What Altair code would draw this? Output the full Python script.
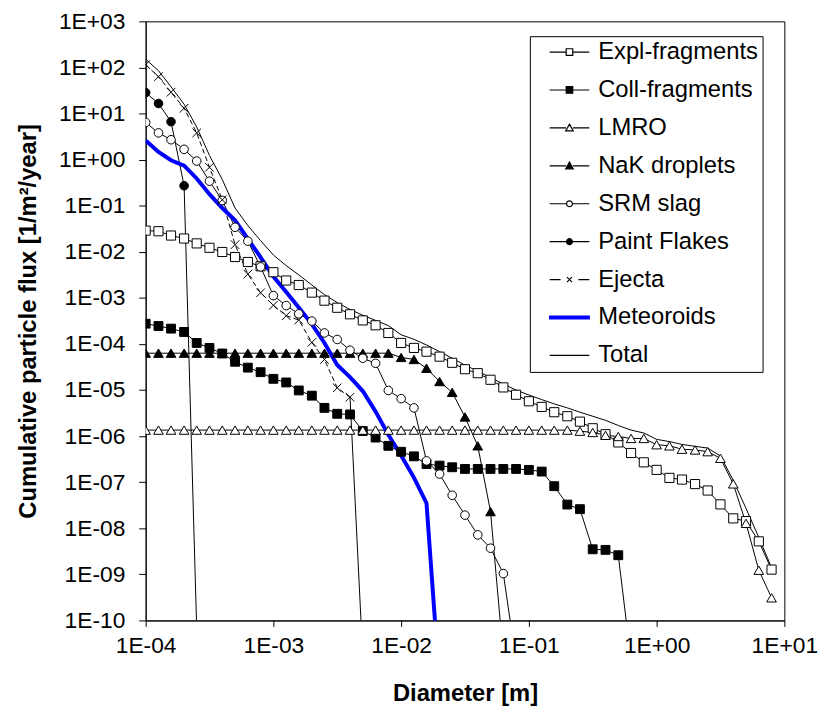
import altair as alt
import pandas as pd

# ---------------- data ----------------
DIAMETER = [
    1.00e-4, 1.26e-4, 1.58e-4, 2.00e-4, 2.51e-4, 3.16e-4, 3.98e-4, 5.01e-4, 6.31e-4, 7.94e-4,
    1.00e-3, 1.26e-3, 1.58e-3, 2.00e-3, 2.51e-3, 3.16e-3, 3.98e-3, 5.01e-3, 6.31e-3, 7.94e-3,
    1.00e-2, 1.26e-2, 1.58e-2, 2.00e-2, 2.51e-2, 3.16e-2, 3.98e-2, 5.01e-2, 6.31e-2, 7.94e-2,
    1.00e-1, 1.26e-1, 1.58e-1, 2.00e-1, 2.51e-1, 3.16e-1, 3.98e-1, 5.01e-1, 6.31e-1, 7.94e-1,
    1.00e+0, 1.26e+0, 1.58e+0, 2.00e+0, 2.51e+0, 3.16e+0, 3.98e+0, 5.01e+0, 6.31e+0, 7.94e+0,
]

SERIES = ["Expl-fragments", "Coll-fragments", "LMRO", "NaK droplets", "SRM slag",
          "Paint Flakes", "Ejecta", "Meteoroids", "Total"]

EXPL = [
    2.88e-2, 2.79e-2, 2.25e-2, 1.94e-2, 1.52e-2, 1.22e-2, 9.9e-3, 7.7e-3, 6.0e-3, 4.85e-3,
    3.6e-3, 2.38e-3, 1.9e-3, 1.3e-3, 8.7e-4, 6.1e-4, 4.4e-4, 3.24e-4, 2.54e-4, 1.73e-4,
    1.05e-4, 8.2e-5, 6.8e-5, 5.3e-5, 3.9e-5, 2.83e-5, 2.32e-5, 1.67e-5, 1.14e-5, 7.9e-6,
    5.7e-6, 4.3e-6, 3.3e-6, 2.7e-6, 2.06e-6, 1.48e-6, 1.1e-6, 7.3e-7, 4.3e-7, 2.7e-7,
    1.85e-7, 1.24e-7, 1.14e-7, 9.1e-8, 6.6e-8, 3.3e-8, 1.64e-8, 1.43e-8, 5.2e-9, 1.27e-9,
]
COLL = [
    2.75e-4, 2.45e-4, 2.15e-4, 1.82e-4, 1.05e-4, 8.2e-5, 6.2e-5, 4.1e-5, 3.06e-5, 2.44e-5,
    1.75e-5, 1.46e-5, 9.8e-6, 7.55e-6, 4.1e-6, 3.05e-6, 2.95e-6, 1.29e-6, 9.3e-7, 6.15e-7,
    4.57e-7, 3.64e-7, 2.48e-7, 2.29e-7, 2.11e-7, 1.94e-7, 1.94e-7, 1.94e-7, 1.94e-7, 1.94e-7,
    1.85e-7, 1.70e-7, 8.2e-8, 3.27e-8, 2.6e-8, 3.5e-9, 3.4e-9, 2.6e-9, 1.35e-11,
]
LMRO = [
    1.35e-6, 1.35e-6, 1.35e-6, 1.35e-6, 1.35e-6, 1.35e-6, 1.35e-6, 1.35e-6, 1.35e-6, 1.35e-6,
    1.35e-6, 1.35e-6, 1.35e-6, 1.35e-6, 1.35e-6, 1.35e-6, 1.35e-6, 1.35e-6, 1.35e-6, 1.35e-6,
    1.35e-6, 1.35e-6, 1.35e-6, 1.35e-6, 1.35e-6, 1.35e-6, 1.35e-6, 1.35e-6, 1.35e-6, 1.35e-6,
    1.35e-6, 1.35e-6, 1.35e-6, 1.35e-6, 1.28e-6, 1.2e-6, 1.04e-6, 9.8e-7, 8.9e-7, 8.9e-7,
    6.5e-7, 6.15e-7, 5.2e-7, 5.0e-7, 4.6e-7, 3.3e-7, 9.2e-8, 1.28e-8, 1.23e-9, 3.1e-10,
]
NAK = [
    6.3e-5, 6.3e-5, 6.3e-5, 6.3e-5, 6.3e-5, 6.3e-5, 6.3e-5, 6.3e-5, 6.3e-5, 6.3e-5,
    6.3e-5, 6.3e-5, 6.3e-5, 6.3e-5, 6.3e-5, 6.3e-5, 6.3e-5, 6.3e-5, 6.3e-5, 6.3e-5,
    5.1e-5, 4.6e-5, 2.97e-5, 1.53e-5, 8.9e-6, 2.6e-6, 6.15e-7, 2.3e-8, 1.66e-11,
]
SRM = [
    6.4e+0, 3.8e+0, 2.7e+0, 1.67e+0, 9.3e-1, 3.4e-1, 1.3e-1, 3.4e-2, 1.7e-2, 4.7e-3,
    1.12e-3, 6.8e-4, 4.5e-4, 3.13e-4, 1.73e-4, 1.25e-4, 7.3e-5, 4.9e-5, 3.8e-5, 9.8e-6,
    6.5e-6, 4.1e-6, 2.9e-7, 1.5e-7, 5.2e-8, 1.93e-8, 7.2e-9, 3.7e-9, 1.04e-9, 1.3e-11,
]
PAINT = [2.84e+1, 1.65e+1, 6.65e+0, 2.71e-1, 6.5e-11]
EJECTA = [
    1.15e+2, 6.3e+1, 2.9e+1, 1.3e+1, 3.8e+0, 6.8e-1, 1.34e-1, 1.43e-2, 3.27e-3, 1.29e-3,
    6.9e-4, 4.1e-4, 3.3e-4, 1.08e-4, 4.6e-5, 1.12e-5, 7.0e-6, 1.6e-11,
]
METEOROIDS = [
    2.6e+0, 1.46e+0, 9.7e-1, 7.4e-1, 3.9e-1, 1.78e-1, 8.9e-2, 4.8e-2, 1.9e-2, 7.6e-3,
    2.9e-3, 1.34e-3, 6.2e-4, 2.7e-4, 1.05e-4, 3.5e-5, 1.9e-5, 9.5e-6, 3.4e-6, 1.07e-6,
    3.8e-7, 1.26e-7, 3.5e-8, 4.0e-12,
]
TOTAL = [
    1.51e+2, 8.5e+1, 3.8e+1, 1.59e+1, 5.1e+0, 1.23e+0, 3.7e-1, 8.9e-2, 3.7e-2, 1.74e-2,
    8.5e-3, 5.0e-3, 3.16e-3, 1.9e-3, 1.17e-3, 7.9e-4, 5.6e-4, 4.2e-4, 3.24e-4, 2.5e-4,
    1.58e-4, 1.26e-4, 9.5e-5, 6.8e-5, 4.9e-5, 3.47e-5, 2.57e-5, 1.86e-5, 1.35e-5, 1.0e-5,
    7.8e-6, 6.2e-6, 5.0e-6, 4.1e-6, 3.3e-6, 2.7e-6, 2.2e-6, 1.7e-6, 1.35e-6, 1.17e-6,
    8.5e-7, 7.6e-7, 6.6e-7, 6.0e-7, 5.5e-7, 3.7e-7, 1.1e-7, 2.7e-8, 6.3e-9, 1.4e-9,
]

FLUX = {
    "Expl-fragments": EXPL, "Coll-fragments": COLL, "LMRO": LMRO, "NaK droplets": NAK,
    "SRM slag": SRM, "Paint Flakes": PAINT, "Ejecta": EJECTA, "Meteoroids": METEOROIDS,
    "Total": TOTAL,
}

rows = []
for name in SERIES:
    for i, (d, v) in enumerate(zip(DIAMETER, FLUX[name])):
        rows.append({"series": name, "d": d, "flux": v, "idx": i})
df = pd.DataFrame(rows)

# ---------------- styles ----------------
FONT = "Liberation Sans"
XPATH = "M-1,-1L1,1M-1,1L1,-1"

MARKER_STYLE = {
    "Expl-fragments": dict(shape="square", size=85, fill="white", filled=True),
    "Coll-fragments": dict(shape="square", size=80, fill="black", filled=True),
    "LMRO": dict(shape="triangle-up", size=95, fill="white", filled=True),
    "NaK droplets": dict(shape="triangle-up", size=95, fill="black", filled=True),
    "SRM slag": dict(shape="circle", size=75, fill="white", filled=True),
    "Paint Flakes": dict(shape="circle", size=75, fill="black", filled=True),
    "Ejecta": dict(shape=XPATH, size=75, filled=False),
}

# legend symbols: line + marker drawn as one custom path (unit = 10 px)
LINE_L = "M-2,0L-0.35,0M0.35,0L2,0"
SQ = "M-0.33,-0.33L0.33,-0.33L0.33,0.33L-0.33,0.33Z"
TRI = "M0,-0.38L0.38,0.3L-0.38,0.3Z"
CIRC = "M0.3,0A0.3,0.3 0 1,1 -0.3,0A0.3,0.3 0 1,1 0.3,0Z"
LEG_SHAPES = [
    LINE_L + SQ, LINE_L + SQ, LINE_L + TRI, LINE_L + TRI, LINE_L + CIRC, LINE_L + CIRC,
    "M-2,0L-0.9,0M0.9,0L2,0M-0.25,-0.25L0.25,0.25M-0.25,0.25L0.25,-0.25",
    "M-2,-0.15L2,-0.15L2,0.15L-2,0.15Z",
    "M-2,0L2,0",
]
LEG_FILLS = ["white", "black", "white", "black", "white", "black", "transparent", "#0000FF", "transparent"]
LEG_STROKES = ["black"] * 7 + ["#0000FF", "black"]

# ---------------- encodings ----------------
LABEL_EXPR = ("'1E' + (datum.value >= 1 ? '+' : '-') + "
              "(abs(round(log(datum.value) / LN10)) < 10 ? '0' : '') + "
              "abs(round(log(datum.value) / LN10))")

x_enc = alt.X(
    "d:Q",
    scale=alt.Scale(type="log", domain=[1e-4, 10], nice=False),
    axis=alt.Axis(values=[1e-4, 1e-3, 1e-2, 1e-1, 1, 10], labelExpr=LABEL_EXPR,
                  title="Diameter [m]", grid=False, labelFlush=False, labelOverlap=False,
                  tickSize=6, labelPadding=8, titleY=81, titleBaseline="alphabetic"),
)
y_enc = alt.Y(
    "flux:Q",
    scale=alt.Scale(type="log", domain=[1e-10, 1e3], nice=False),
    axis=alt.Axis(values=[10.0 ** e for e in range(-10, 4)], labelExpr=LABEL_EXPR,
                  title="Cumulative particle flux [1/m²/year]", grid=False,
                  labelFlush=False, labelOverlap=False, tickSize=7, labelPadding=14,
                  titleX=-106, titleY=302.5, titleAngle=-90, titleBaseline="bottom",
                  titleAlign="center"),
)

layers = []
for name in SERIES:
    sub = df[df.series == name]
    if name == "Meteoroids":
        layers.append(alt.Chart(sub).mark_line(clip=True, color="#0000FF", strokeWidth=4)
                      .encode(x=x_enc, y=y_enc))
    elif name == "Ejecta":
        last = len(EJECTA) - 2
        layers.append(alt.Chart(sub[sub.idx <= last]).mark_line(
            clip=True, color="black", strokeWidth=1, strokeDash=[5, 3]).encode(x=x_enc, y=y_enc))
        layers.append(alt.Chart(sub[sub.idx >= last]).mark_line(
            clip=True, color="black", strokeWidth=1).encode(x=x_enc, y=y_enc))
    else:
        layers.append(alt.Chart(sub).mark_line(clip=True, color="black", strokeWidth=1)
                      .encode(x=x_enc, y=y_enc))
for name in SERIES:
    if name not in MARKER_STYLE:
        continue
    ms = MARKER_STYLE[name]
    layers.append(
        alt.Chart(df[df.series == name]).mark_point(
            clip=True, stroke="black", strokeWidth=1, opacity=1, **ms
        ).encode(x=x_enc, y=y_enc)
    )

legend_df = pd.DataFrame({"series": SERIES})
legend_layer = alt.Chart(legend_df).transform_filter("false").mark_point(
    opacity=1, strokeWidth=1
).encode(
    shape=alt.Shape("series:N", scale=alt.Scale(domain=SERIES, range=LEG_SHAPES), title=None,
                    legend=alt.Legend(title=None)),
    fill=alt.Fill("series:N", scale=alt.Scale(domain=SERIES, range=LEG_FILLS), title=None,
                  legend=alt.Legend(title=None)),
    stroke=alt.Stroke("series:N", scale=alt.Scale(domain=SERIES, range=LEG_STROKES), title=None,
                      legend=alt.Legend(title=None)),
)
layers.append(legend_layer)

chart = alt.layer(*layers).properties(
    width=645, height=605,
    padding={"left": 139, "top": 10, "right": 37, "bottom": 92},
    autosize=alt.AutoSizeParams(type="none"),
).configure_view(
    stroke="black", strokeWidth=1
).configure_axis(
    labelFont=FONT, labelFontSize=23, labelColor="black",
    titleFont=FONT, titleFontSize=24, titleFontWeight="bold", titleColor="black",
    domainColor="black", tickColor="black", domainWidth=1, tickWidth=1,
).configure_legend(
    orient="none", legendX=388, legendY=15, padding=4,
    strokeColor="black", fillColor="white", strokeWidth=1, cornerRadius=0,
    labelFont=FONT, labelFontSize=24, labelColor="black", labelLimit=0,
    symbolSize=400, symbolOffset=24, labelOffset=17, rowPadding=14.3,
    symbolStrokeWidth=1.2,
)

chart.save("out.html", embed_options={"renderer": "svg", "actions": False})
